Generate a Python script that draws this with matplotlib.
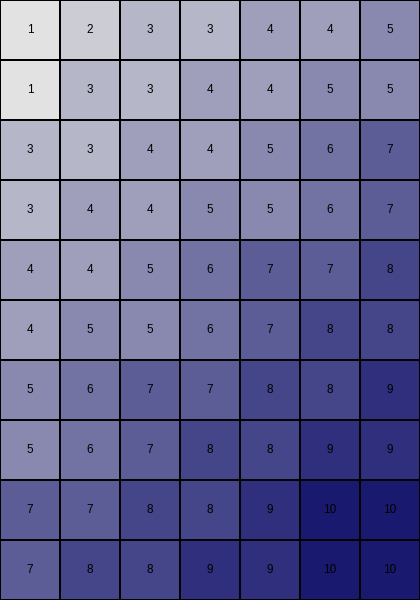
import numpy as np
import matplotlib
matplotlib.use("Agg")
import matplotlib.pyplot as plt
from matplotlib.colors import LinearSegmentedColormap

# Werte pro Zeile (oben nach unten), 7 Spalten
zeile_01 = [1, 2, 3, 3, 4, 4, 5]
zeile_02 = [1, 3, 3, 4, 4, 5, 5]
zeile_03 = [3, 3, 4, 4, 5, 6, 7]
zeile_04 = [3, 4, 4, 5, 5, 6, 7]
zeile_05 = [4, 4, 5, 6, 7, 7, 8]
zeile_06 = [4, 5, 5, 6, 7, 8, 8]
zeile_07 = [5, 6, 7, 7, 8, 8, 9]
zeile_08 = [5, 6, 7, 8, 8, 9, 9]
zeile_09 = [7, 7, 8, 8, 9, 10, 10]
zeile_10 = [7, 8, 8, 9, 9, 10, 10]


def heatmap_erstellen(werte):
    """Zeichnet die Heatmap mit Zahlen in jeder Zelle."""
    farbskala = LinearSegmentedColormap.from_list("grau_blau", ["#e2e2e2", "#191970"])

    fig = plt.figure(figsize=(4.2, 6), dpi=100)
    ax = fig.add_axes([0, 0, 1, 1])
    ax.pcolormesh(werte, cmap=farbskala, vmin=1, vmax=10,
                  edgecolors="black", linewidth=1.3)
    ax.set_xlim(0, werte.shape[1])
    ax.set_ylim(werte.shape[0], 0)
    ax.axis("off")

    for i in range(werte.shape[0]):
        for j in range(werte.shape[1]):
            ax.text(j + 0.5, i + 0.5, str(werte[i, j]), ha="center", va="center",
                    fontsize=8.5, color="black", family=["Liberation Sans", "DejaVu Sans"])

    fig.savefig("out.png", dpi=100)


def main():
    werte = np.array([zeile_01, zeile_02, zeile_03, zeile_04, zeile_05,
                      zeile_06, zeile_07, zeile_08, zeile_09, zeile_10])
    heatmap_erstellen(werte)


if __name__ == "__main__":
    main()
